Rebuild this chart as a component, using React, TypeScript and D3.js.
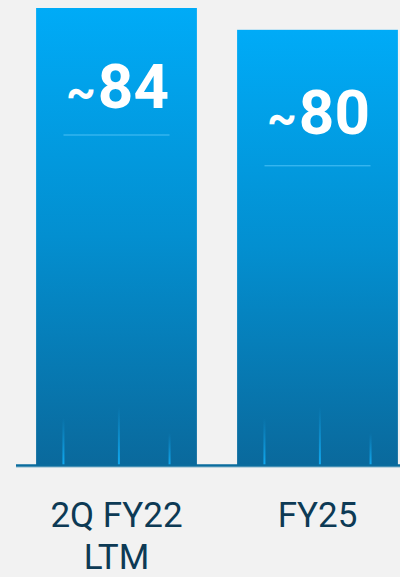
import React from "react";
import * as d3 from "d3";

const categories: string[][] = [["2Q FY22", "LTM"], ["FY25"]];
const values: number[] = [84, 80];
const valuePrefix = "~";
const valueLabels: string[] = ["84", "80"];

const W = 400;
const H = 577;

export default function App() {
  const x = d3
    .scaleBand<number>()
    .domain(values.map((_, i) => i))
    .range([16, 418])
    .paddingInner(0.2)
    .paddingOuter(0.1);
  const y = d3.scaleLinear().domain([0, 84]).range([466, 8]);
  const bw = x.bandwidth();
  const deco = [
    { f: 0.17, h: 48 },
    { f: 0.515, h: 59 },
    { f: 0.83, h: 33 },
  ];
  return (
    <svg
      width={W}
      height={H}
      style={{ position: "absolute", left: 0, top: 0, display: "block" }}
    >
      <defs>
        <linearGradient id="barGrad" x1="0" y1="0" x2="0" y2="1">
          <stop offset="0%" stopColor="#00abf7" />
          <stop offset="50%" stopColor="#038fd0" />
          <stop offset="100%" stopColor="#0a699c" />
        </linearGradient>
        <linearGradient id="decoGrad" x1="0" y1="0" x2="0" y2="1">
          <stop offset="0%" stopColor="#12a6ec" stopOpacity={0} />
          <stop offset="100%" stopColor="#10acf4" stopOpacity={1} />
        </linearGradient>
      </defs>
      <rect x={0} y={0} width={W} height={H} fill="#f2f2f2" />
      {values.map((v, i) => {
        const bx = x(i)!;
        const by = y(v);
        const cx = bx + bw / 2;
        return (
          <g key={i}>
            <rect
              x={bx}
              y={by}
              width={bw}
              height={y(0) - by}
              fill="url(#barGrad)"
            />
            {deco.map((d, j) => (
              <rect
                key={j}
                x={bx + bw * d.f - 1}
                y={y(0) - d.h}
                width={2}
                height={d.h}
                fill="url(#decoGrad)"
              />
            ))}
            <text
              x={cx + 1}
              y={by + 100 + (i === 1 ? 4 : 0)}
              textAnchor="middle"
              fill="#ffffff"
              fontFamily="Roboto, 'Open Sans', sans-serif"
              fontWeight={700}
              fontSize={62}
            >
              <tspan fontSize={46} dx={0}>{valuePrefix}</tspan>
              <tspan dx={2}>{valueLabels[i]}</tspan>
            </text>
            <line
              x1={cx - 53}
              x2={cx + 53}
              y1={by + 127 + (i === 1 ? 9 : 0)}
              y2={by + 127 + (i === 1 ? 9 : 0)}
              stroke="#4cc0f5"
              strokeWidth={1}
            />
            {categories[i].map((line, k) => (
              <text
                key={k}
                x={cx}
                y={527 + k * 42}
                textAnchor="middle"
                fill="#0d3a55"
                fontFamily="Roboto, 'Open Sans', sans-serif"
                fontSize={35}
              >
                {line}
              </text>
            ))}
          </g>
        );
      })}
      <line x1={16} x2={W} y1={465.5} y2={465.5} stroke="#0a6c9e" strokeWidth={2.5} />
      <line x1={16} x2={W} y1={467.5} y2={467.5} stroke="#bcd4df" strokeWidth={1} />
    </svg>
  );
}
